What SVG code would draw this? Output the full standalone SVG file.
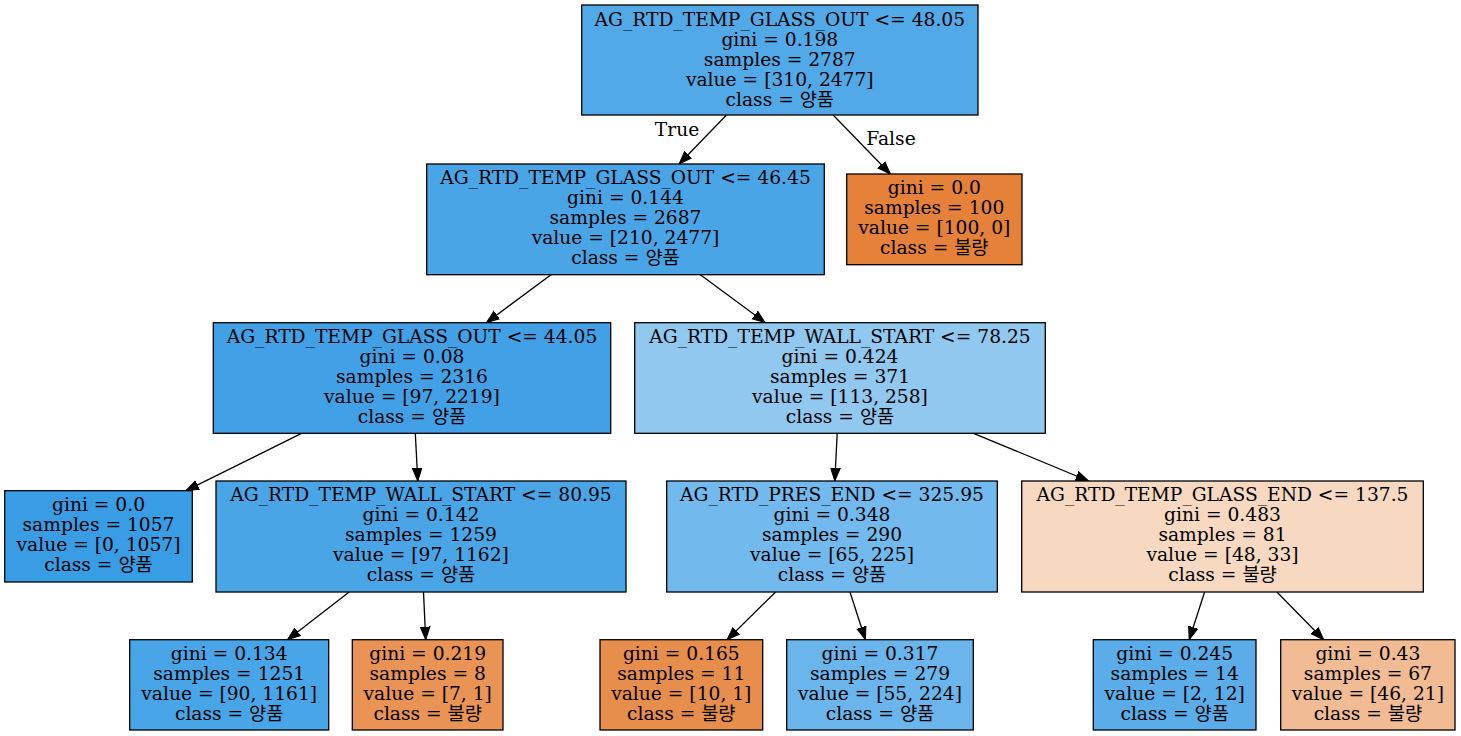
<svg xmlns="http://www.w3.org/2000/svg" width="1461" height="736" viewBox="0 0 1461 736">
<defs>
<marker id="arr" markerUnits="userSpaceOnUse" markerWidth="14" markerHeight="12" viewBox="0 -6 14 12" refX="13" refY="0" orient="auto">
<path d="M0,-4.8 L13,0 L0,4.8 Z" fill="#000" stroke="#000" stroke-width="1"/>
</marker>
</defs>
<style>
rect{stroke:#000;stroke-width:1.3}
text{font-family:"DejaVu Serif","Noto Sans CJK KR",serif;font-size:18.67px;fill:#000;text-anchor:middle}
.e line{stroke:#000;stroke-width:1.3;marker-end:url(#arr)}
</style>
<rect width="1461" height="736" fill="#fff" style="stroke:none"/>
<g class="e" id="edges">
<line x1="726.5" y1="115" x2="679.1" y2="164"/>
<line x1="833.1" y1="115" x2="890.4" y2="174"/>
<line x1="551" y1="274.7" x2="486.4" y2="322.7"/>
<line x1="700.4" y1="274.7" x2="765.2" y2="322.7"/>
<line x1="301.5" y1="433.3" x2="186" y2="490.7"/>
<line x1="415.3" y1="433.3" x2="417.8" y2="481"/>
<line x1="837.2" y1="433.3" x2="834.8" y2="481"/>
<line x1="973.5" y1="433.3" x2="1088.6" y2="481"/>
<line x1="349.2" y1="592" x2="287.5" y2="639.7"/>
<line x1="423.5" y1="592" x2="425.7" y2="639.7"/>
<line x1="775.6" y1="592" x2="727.1" y2="639.7"/>
<line x1="850" y1="592" x2="865.4" y2="639.7"/>
<line x1="1204.6" y1="592" x2="1189.2" y2="639.7"/>
<line x1="1276.9" y1="592" x2="1323.7" y2="639.7"/>
<text x="677" y="136">True</text>
<text x="891" y="145">False</text>
</g>
<g id="n0">
<rect x="581.7" y="5" width="396.3" height="110" fill="#52a9e8"/>
<text x="779.8" y="25.7">AG_RTD_TEMP_GLASS_OUT &lt;= 48.05</text>
<text x="779.8" y="45.7">gini = 0.198</text>
<text x="779.8" y="65.7">samples = 2787</text>
<text x="779.8" y="85.7">value = [310, 2477]</text>
<text x="779.8" y="105.7">class = 양품</text>
</g>
<g id="n1">
<rect x="426.7" y="164" width="397.6" height="110.7" fill="#4aa5e7"/>
<text x="625.5" y="184.3">AG_RTD_TEMP_GLASS_OUT &lt;= 46.45</text>
<text x="625.5" y="204.3">gini = 0.144</text>
<text x="625.5" y="224.3">samples = 2687</text>
<text x="625.5" y="244.3">value = [210, 2477]</text>
<text x="625.5" y="264.3">class = 양품</text>
</g>
<g id="n2">
<rect x="846.7" y="174" width="175.3" height="90.7" fill="#e58139"/>
<text x="934.3" y="194">gini = 0.0</text>
<text x="934.3" y="214">samples = 100</text>
<text x="934.3" y="234">value = [100, 0]</text>
<text x="934.3" y="254">class = 불량</text>
</g>
<g id="n3">
<rect x="213.3" y="322.7" width="397.4" height="110.6" fill="#42a1e6"/>
<text x="412" y="342.7">AG_RTD_TEMP_GLASS_OUT &lt;= 44.05</text>
<text x="412" y="362.7">gini = 0.08</text>
<text x="412" y="382.7">samples = 2316</text>
<text x="412" y="402.7">value = [97, 2219]</text>
<text x="412" y="422.7">class = 양품</text>
</g>
<g id="n4">
<rect x="634.7" y="322.7" width="410.6" height="110.6" fill="#90c8f0"/>
<text x="840" y="342.7">AG_RTD_TEMP_WALL_START &lt;= 78.25</text>
<text x="840" y="362.7">gini = 0.424</text>
<text x="840" y="382.7">samples = 371</text>
<text x="840" y="402.7">value = [113, 258]</text>
<text x="840" y="422.7">class = 양품</text>
</g>
<g id="n5">
<rect x="4.7" y="490.7" width="187.6" height="91.3" fill="#399de5"/>
<text x="98.5" y="510.7">gini = 0.0</text>
<text x="98.5" y="530.7">samples = 1057</text>
<text x="98.5" y="550.7">value = [0, 1057]</text>
<text x="98.5" y="570.7">class = 양품</text>
</g>
<g id="n6">
<rect x="216" y="481" width="410" height="111" fill="#4aa5e7"/>
<text x="421" y="501">AG_RTD_TEMP_WALL_START &lt;= 80.95</text>
<text x="421" y="521">gini = 0.142</text>
<text x="421" y="541">samples = 1259</text>
<text x="421" y="561">value = [97, 1162]</text>
<text x="421" y="581">class = 양품</text>
</g>
<g id="n7">
<rect x="666.7" y="481" width="330.6" height="111" fill="#72b9ed"/>
<text x="832" y="501">AG_RTD_PRES_END &lt;= 325.95</text>
<text x="832" y="521">gini = 0.348</text>
<text x="832" y="541">samples = 290</text>
<text x="832" y="561">value = [65, 225]</text>
<text x="832" y="581">class = 양품</text>
</g>
<g id="n8">
<rect x="1021.7" y="481" width="401.6" height="111" fill="#f7d8c1"/>
<text x="1222.5" y="501">AG_RTD_TEMP_GLASS_END &lt;= 137.5</text>
<text x="1222.5" y="521">gini = 0.483</text>
<text x="1222.5" y="541">samples = 81</text>
<text x="1222.5" y="561">value = [48, 33]</text>
<text x="1222.5" y="581">class = 불량</text>
</g>
<g id="n9">
<rect x="129.7" y="639.7" width="199" height="90.3" fill="#48a5e7"/>
<text x="229.2" y="659.5">gini = 0.134</text>
<text x="229.2" y="679.5">samples = 1251</text>
<text x="229.2" y="699.5">value = [90, 1161]</text>
<text x="229.2" y="719.5">class = 양품</text>
</g>
<g id="n10">
<rect x="352.3" y="639.7" width="150.7" height="90.3" fill="#e99355"/>
<text x="427.7" y="659.5">gini = 0.219</text>
<text x="427.7" y="679.5">samples = 8</text>
<text x="427.7" y="699.5">value = [7, 1]</text>
<text x="427.7" y="719.5">class = 불량</text>
</g>
<g id="n11">
<rect x="600" y="639.7" width="162.7" height="90.3" fill="#e88e4d"/>
<text x="681.3" y="659.5">gini = 0.165</text>
<text x="681.3" y="679.5">samples = 11</text>
<text x="681.3" y="699.5">value = [10, 1]</text>
<text x="681.3" y="719.5">class = 불량</text>
</g>
<g id="n12">
<rect x="786.7" y="639.7" width="186.6" height="90.3" fill="#6ab5eb"/>
<text x="880" y="659.5">gini = 0.317</text>
<text x="880" y="679.5">samples = 279</text>
<text x="880" y="699.5">value = [55, 224]</text>
<text x="880" y="719.5">class = 양품</text>
</g>
<g id="n13">
<rect x="1093.3" y="639.7" width="162.7" height="90.3" fill="#5aade9"/>
<text x="1174.7" y="659.5">gini = 0.245</text>
<text x="1174.7" y="679.5">samples = 14</text>
<text x="1174.7" y="699.5">value = [2, 12]</text>
<text x="1174.7" y="719.5">class = 양품</text>
</g>
<g id="n14">
<rect x="1280.7" y="639.7" width="174.3" height="90.3" fill="#f1bb93"/>
<text x="1367.9" y="659.5">gini = 0.43</text>
<text x="1367.9" y="679.5">samples = 67</text>
<text x="1367.9" y="699.5">value = [46, 21]</text>
<text x="1367.9" y="719.5">class = 불량</text>
</g>
</svg>
